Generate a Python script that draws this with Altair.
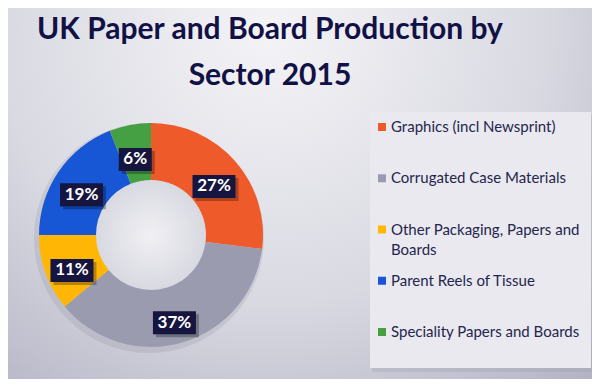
import math
import altair as alt
import pandas as pd

# ---- data ----
sectors = [
    "Graphics (incl Newsprint)",
    "Corrugated Case Materials",
    "Other Packaging, Papers and Boards",
    "Parent Reels of Tissue",
    "Speciality Papers and Boards",
]
shares = [27, 37, 11, 19, 6]
colors = ["#ef5a2a", "#9b9bb0", "#ffb605", "#1756d5", "#45a043"]
title_lines = ["UK Paper and Board Production by", "Sector 2015"]

# ---- layout ----
W, H = 584, 371
CX, CY = 143, 227
R_OUT, R_IN, R_LAB = 112, 55, 84
NAVY = "#15153f"

df = pd.DataFrame({"sector": sectors, "share": shares, "order": list(range(len(sectors)))})
one = alt.Data(values=[{"k": 1}])

bg = alt.Chart(one).mark_rect(
    color={
        "gradient": "radial",
        "x1": 0.45, "y1": 0.22, "r1": 0,
        "x2": 0.45, "y2": 0.22, "r2": 0.85,
        "stops": [
            {"offset": 0, "color": "#f4f4f7"},
            {"offset": 0.55, "color": "#d9d9e2"},
            {"offset": 1, "color": "#aeaec0"},
        ],
    }
).encode(x=alt.value(0), x2=alt.value(W), y=alt.value(0), y2=alt.value(H))

shadow = alt.Chart(one).mark_arc(
    theta=0, theta2=2 * math.pi, radius=R_OUT + 3, color="#6a6a80", opacity=0.15
).encode(x=alt.value(CX - 2), y=alt.value(CY + 3))

hole = alt.Chart(one).mark_arc(
    theta=0, theta2=2 * math.pi, radius=R_IN + 1,
    color={
        "gradient": "radial",
        "x1": 0.5, "y1": 0.5, "r1": 0,
        "x2": 0.5, "y2": 0.5, "r2": 0.5,
        "stops": [
            {"offset": 0, "color": "#f0f0f4"},
            {"offset": 1, "color": "#d8d8e1"},
        ],
    },
).encode(x=alt.value(CX), y=alt.value(CY))

color_scale = alt.Scale(domain=sectors, range=colors)

donut = alt.Chart(df).mark_arc(radius=R_OUT, radius2=R_IN).encode(
    theta=alt.Theta("share:Q", stack=True),
    order=alt.Order("order:Q"),
    color=alt.Color("sector:N", scale=color_scale, legend=None),
    x=alt.value(CX),
    y=alt.value(CY),
)

labels_base = (
    alt.Chart(df)
    .transform_window(cum="sum(share)", sort=[alt.SortField("order")], frame=[None, 0])
    .transform_joinaggregate(total="sum(share)")
    .transform_calculate(
        mid="(datum.cum - datum.share / 2) / datum.total * 2 * PI",
        lab="datum.share + '%'",
    )
    .transform_calculate(
        lx=f"{CX} + {R_LAB} * sin(datum.mid)",
        ly=f"{CY} - {R_LAB} * cos(datum.mid) + 7",
        hw="5 * length(datum.lab) + 6.5",
    )
    .transform_calculate(
        bx1="datum.lx - datum.hw",
        bx2="datum.lx + datum.hw",
        by1="datum.ly - 11.5",
        by2="datum.ly + 11.5",
        sx1="datum.lx - datum.hw + 3",
        sx2="datum.lx + datum.hw + 3",
        sy1="datum.ly - 11.5 + 3",
        sy2="datum.ly + 11.5 + 3",
    )
)

box_shadow = labels_base.mark_rect(color="#000000", opacity=0.28).encode(
    x=alt.X("sx1:Q", scale=None, axis=None),
    x2="sx2:Q",
    y=alt.Y("sy1:Q", scale=None, axis=None),
    y2="sy2:Q",
)
boxes = labels_base.mark_rect(color=NAVY).encode(
    x=alt.X("bx1:Q", scale=None, axis=None),
    x2="bx2:Q",
    y=alt.Y("by1:Q", scale=None, axis=None),
    y2="by2:Q",
)
box_text = labels_base.mark_text(
    font="Lato", fontSize=17, fontWeight="bold", color="white", baseline="middle", align="center"
).encode(
    x=alt.X("lx:Q", scale=None, axis=None),
    y=alt.Y("ly:Q", scale=None, axis=None),
    text="lab:N",
)

# ---- legend ----
LEG_X1, LEG_Y1, LEG_X2, LEG_Y2 = 362, 104, 583, 360
leg_shadow = alt.Chart(one).mark_rect(color="#9c9cae", opacity=0.3).encode(
    x=alt.value(LEG_X1 + 2), x2=alt.value(LEG_X2 + 3), y=alt.value(LEG_Y1 + 3), y2=alt.value(LEG_Y2 + 4)
)
leg_box = alt.Chart(one).mark_rect(color="#e9e9ef").encode(
    x=alt.value(LEG_X1), x2=alt.value(LEG_X2), y=alt.value(LEG_Y1), y2=alt.value(LEG_Y2)
)

leg_base = alt.Chart(df).transform_calculate(
    ly="119 + datum.order * 51.25",
    sx="374",
    tx="383",
    wrapped=(
        "length(datum.sector) > 28 ? "
        "substring(datum.sector, 0, lastindexof(substring(datum.sector, 0, 28), ' ')) + '\\n' + "
        "substring(datum.sector, lastindexof(substring(datum.sector, 0, 28), ' ') + 1) : datum.sector"
    ),
)
leg_sym = leg_base.mark_square(size=64, opacity=1).encode(
    x=alt.X("sx:Q", scale=None, axis=None),
    y=alt.Y("ly:Q", scale=None, axis=None),
    color=alt.Color("sector:N", scale=color_scale, legend=None),
)
leg_text = leg_base.mark_text(
    font="Lato", fontSize=15, color="#25254e", align="left", baseline="middle",
    lineBreak="\n", lineHeight=20,
).encode(
    x=alt.X("tx:Q", scale=None, axis=None),
    y=alt.Y("ly:Q", scale=None, axis=None),
    text="wrapped:N",
)

title = alt.Chart(one).mark_text(
    text=title_lines, font="Lato", fontSize=30, fontWeight="bold", color="#111146",
    align="center", baseline="alphabetic", lineHeight=46,
).encode(x=alt.value(262), y=alt.value(31))

chart = (
    alt.layer(bg, shadow, hole, donut, box_shadow, boxes, box_text,
              leg_shadow, leg_box, leg_sym, leg_text, title)
    .properties(width=W, height=H, padding=0, autosize=alt.AutoSizeParams(type="none"))
    .configure_view(stroke=None)
)

chart.save("out.html", embed_options={"renderer": "svg", "actions": False})
